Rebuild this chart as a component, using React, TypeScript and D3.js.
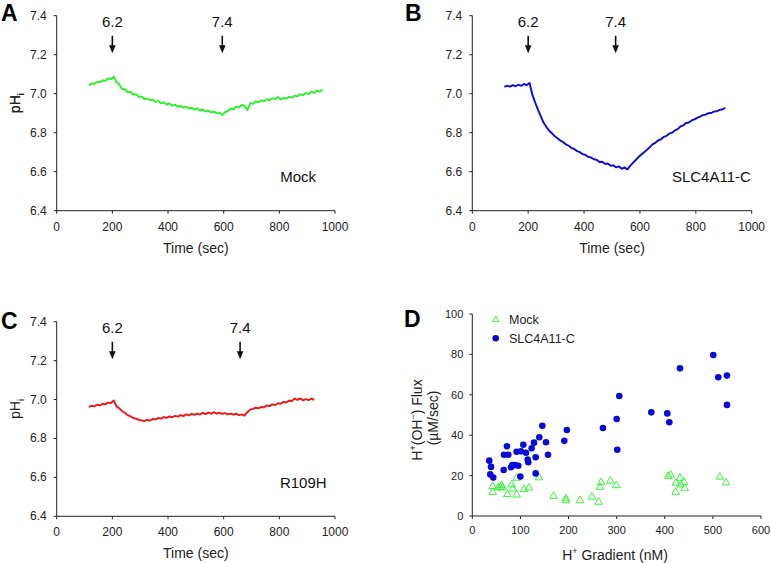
import React from "react";
import * as d3 from "d3";

// ---------- DATA ----------
const TIME_TICKS = [0, 200, 400, 600, 800, 1000];
const PH_TICKS = [6.4, 6.6, 6.8, 7.0, 7.2, 7.4];
const GRAD_TICKS = [0, 100, 200, 300, 400, 500, 600];
const FLUX_TICKS = [0, 20, 40, 60, 80, 100];

const timeA = d3.range(115, 956, 10);
const phMock = [
  7.042, 7.052, 7.05, 7.061, 7.058, 7.069, 7.066, 7.078, 7.074, 7.088,
  7.058, 7.048, 7.022, 7.024, 7.008, 7.009, 6.996, 6.997, 6.984, 6.986,
  6.973, 6.976, 6.966, 6.97, 6.958, 6.962, 6.951, 6.956, 6.945, 6.95,
  6.939, 6.944, 6.933, 6.938, 6.928, 6.934, 6.923, 6.928, 6.918, 6.925,
  6.913, 6.919, 6.908, 6.914, 6.903, 6.909, 6.899, 6.903, 6.891, 6.906,
  6.91, 6.924, 6.92, 6.934, 6.929, 6.943, 6.938, 6.915, 6.951, 6.948,
  6.961, 6.956, 6.966, 6.962, 6.972, 6.966, 6.977, 6.973, 6.983, 6.972,
  6.979, 6.975, 6.984, 6.98, 6.99, 6.986, 6.997, 6.992, 7.003, 6.998,
  7.01, 7.004, 7.016, 7.01, 7.02,
];

const timeB = d3.range(115, 906, 10);
const phSLC = [
  7.035, 7.041, 7.036, 7.044, 7.038, 7.046, 7.04, 7.05, 7.044, 7.055,
  6.995, 6.955, 6.918, 6.885, 6.852, 6.83, 6.81, 6.797, 6.782, 6.772,
  6.76, 6.752, 6.74, 6.733, 6.722, 6.716, 6.705, 6.7, 6.69, 6.686,
  6.676, 6.673, 6.664, 6.661, 6.65, 6.651, 6.64, 6.642, 6.63, 6.633,
  6.622, 6.627, 6.615, 6.622, 6.612, 6.63, 6.645, 6.66, 6.675, 6.688,
  6.7, 6.712, 6.725, 6.74, 6.748, 6.76, 6.766, 6.778, 6.784, 6.795,
  6.8, 6.812, 6.818, 6.832, 6.838, 6.85, 6.852, 6.863, 6.868, 6.876,
  6.882, 6.89, 6.893, 6.9, 6.901, 6.908, 6.91, 6.917, 6.919, 6.928,
];

const timeC = d3.range(115, 926, 10);
const phR109H = [
  6.962, 6.968, 6.965, 6.973, 6.97, 6.978, 6.975, 6.984, 6.982, 6.995,
  6.965, 6.955, 6.94, 6.932, 6.92, 6.914, 6.905, 6.902, 6.895, 6.893,
  6.89, 6.895, 6.892, 6.9, 6.898, 6.905, 6.902, 6.91, 6.906, 6.913,
  6.909, 6.916, 6.912, 6.92, 6.915, 6.924, 6.918, 6.926, 6.921, 6.928,
  6.923, 6.932, 6.925, 6.933, 6.927, 6.935, 6.928, 6.932, 6.926, 6.93,
  6.924, 6.928, 6.922, 6.927, 6.92, 6.924, 6.917, 6.935, 6.948, 6.952,
  6.958, 6.955, 6.962, 6.96, 6.97, 6.966, 6.975, 6.972, 6.981, 6.978,
  6.988, 6.985, 6.995, 6.992, 7.005, 6.998, 7.006, 6.996, 7.002, 6.997,
  7.004, 6.999,
];

const mockGradient = [
  42.4, 42.4, 54, 58.2, 61.1, 62.3, 72.7, 81.9, 84, 92.2, 92.2, 107.4, 117.8,
  138.6, 169, 194.5, 194.5, 223.8, 248.7, 262.6, 265.4, 267.5, 286.8, 299.3,
  407, 412, 423, 422.7, 431.6, 433, 440, 441.4, 514.7, 527.2,
];
const mockFlux = [
  14.9, 12.0, 14.2, 14.5, 15.3, 14.2, 10.9, 15.7, 13.7, 19.0, 10.7, 13.4, 14.2,
  19.2, 10.0, 8.8, 7.9, 7.9, 9.6, 7.1, 14.5, 16.8, 17.5, 15.3,
  19.9, 20.6, 16.5, 12.0, 19.0, 15.7, 17.0, 14.0, 19.5, 16.7,
];
const slcGradient = [
  35.3, 38.9, 37.4, 43.6, 65.2, 65.9, 72.1, 74.8, 80.4, 83.1, 88.7, 92.2, 95.6,
  99.8, 101.2, 106, 111.6, 115, 116.4, 123.4, 128.2, 131.7, 131.7, 139.2, 145.5,
  153.2, 157.3, 191.2, 196.5, 271.6, 300, 301.3, 305.5, 372, 405.2, 409.4,
  431.6, 500.8, 511.2, 529.3, 529.3,
];
const slcFlux = [
  27.4, 24.3, 20.6, 19.0, 22.8, 30.3, 34.5, 30.3, 24.1, 25.2, 25.2, 31.8, 24.9,
  19.5, 32.0, 35.3, 31.3, 28.0, 26.6, 33.5, 36.3, 29.1, 21.1, 39.0, 44.7,
  36.5, 30.3, 37.2, 42.6, 43.6, 48.0, 32.8, 59.4, 51.3, 50.8, 46.4,
  73.1, 79.7, 68.7, 69.5, 55.0,
];

// ---------- STYLE ----------
const FONT = "Arial, 'Liberation Sans', Helvetica, sans-serif";
const GREEN = "#2df02d";
const BLUE = "#0a0ad8";
const RED = "#ee1515";
const AXIS = "#222";

type TraceProps = {
  letter: string;
  letterX: number;
  letterY: number;
  left: number;
  top: number;
  right: number;
  bottom: number;
  times: number[];
  values: number[];
  color: string;
  arrowAcid: number;
  arrowBase: number;
  label: string;
  labelX: number;
};

function Arrow({ x, y1, y2, text, yText }: { x: number; y1: number; y2: number; text: string; yText: number }) {
  const head = 8;
  const hw = 3.3;
  return (
    <g>
      <text x={x} y={yText} textAnchor="middle" fontSize={15} fontFamily={FONT} fill="#111">
        {text}
      </text>
      <line x1={x} x2={x} y1={y1} y2={y2 - head + 1} stroke="#111" strokeWidth={1.6} />
      <path d={`M${x - hw},${y2 - head} L${x + hw},${y2 - head} L${x},${y2} Z`} fill="#111" />
    </g>
  );
}

function TracePanel(p: TraceProps) {
  const x = d3.scaleLinear().domain([0, 1000]).range([p.left, p.right]);
  const y = d3.scaleLinear().domain([6.4, 7.4]).range([p.bottom, p.top]);
  const pts: [number, number][] = p.times.map((t, i) => [t, p.values[i]]);
  const line = d3
    .line<[number, number]>()
    .x((d) => x(d[0]))
    .y((d) => y(d[1]));
  const midY = (p.top + p.bottom) / 2;
  return (
    <g>
      <text x={p.letterX} y={p.letterY} fontSize={23} fontWeight="bold" fontFamily={FONT} fill="#000">
        {p.letter}
      </text>
      <line x1={p.left} x2={p.left} y1={p.top} y2={p.bottom} stroke={AXIS} strokeWidth={1} />
      <line x1={p.left} x2={p.right} y1={p.bottom} y2={p.bottom} stroke={AXIS} strokeWidth={1} />
      {PH_TICKS.map((t) => (
        <g key={"y" + t}>
          <line x1={p.left - 3} x2={p.left} y1={y(t)} y2={y(t)} stroke={AXIS} />
          <text x={p.left - 10} y={y(t) + 4} textAnchor="end" fontSize={12} fontFamily={FONT} fill="#222">
            {t.toFixed(1)}
          </text>
        </g>
      ))}
      {TIME_TICKS.map((t) => (
        <g key={"x" + t}>
          <line x1={x(t)} x2={x(t)} y1={p.bottom} y2={p.bottom + 3} stroke={AXIS} />
          <text x={x(t)} y={p.bottom + 20} textAnchor="middle" fontSize={12} fontFamily={FONT} fill="#222">
            {t}
          </text>
        </g>
      ))}
      <text x={(p.left + p.right) / 2} y={p.bottom + 42} textAnchor="middle" fontSize={14} fontFamily={FONT} fill="#222">
        Time (sec)
      </text>
      <text transform={`translate(20,${midY - 10}) rotate(-90)`} textAnchor="middle" fontSize={14} fontFamily={FONT} fill="#222">
        pH<tspan fontSize={9} dy={4}>i</tspan>
      </text>
      <path d={line(pts) || ""} fill="none" stroke={p.color} strokeWidth={1.9} strokeLinejoin="round" />
      <Arrow x={x(p.arrowAcid)} y1={p.top + 20} y2={p.top + 37.5} yText={p.top + 11.5} text="6.2" />
      <Arrow x={x(p.arrowBase)} y1={p.top + 20} y2={p.top + 37.5} yText={p.top + 11.5} text="7.4" />
      <text x={x(p.labelX)} y={y(6.547)} textAnchor="end" fontSize={15} fontFamily={FONT} fill="#111">
        {p.label}
      </text>
    </g>
  );
}

function ScatterPanel() {
  const left = 472.3, right = 761, top = 314, bottom = 516;
  const x = d3.scaleLinear().domain([0, 600]).range([left, right]);
  const y = d3.scaleLinear().domain([0, 100]).range([bottom, top]);
  const tri = (cx: number, cy: number, s: number) =>
    `M${cx},${cy - s * 0.62} L${cx + s * 0.58},${cy + s * 0.4} L${cx - s * 0.58},${cy + s * 0.4} Z`;
  return (
    <g>
      <text x={404} y={327} fontSize={23} fontWeight="bold" fontFamily={FONT} fill="#000">D</text>
      <line x1={left} x2={left} y1={top} y2={bottom} stroke={AXIS} />
      <line x1={left} x2={right} y1={bottom} y2={bottom} stroke={AXIS} />
      {FLUX_TICKS.map((t) => (
        <g key={"fy" + t}>
          <line x1={left - 3} x2={left} y1={y(t)} y2={y(t)} stroke={AXIS} />
          <text x={left - 9} y={y(t) + 4} textAnchor="end" fontSize={11} fontFamily={FONT} fill="#222">{t}</text>
        </g>
      ))}
      {GRAD_TICKS.map((t) => (
        <g key={"fx" + t}>
          <line x1={x(t)} x2={x(t)} y1={bottom} y2={bottom + 3} stroke={AXIS} />
          <text x={x(t)} y={bottom + 18} textAnchor="middle" fontSize={11} fontFamily={FONT} fill="#222">{t}</text>
        </g>
      ))}
      <text x={615} y={560} textAnchor="middle" fontSize={14} fontFamily={FONT} fill="#222">
        H<tspan fontSize={9} dy={-6}>+</tspan><tspan dy={6}> Gradient (nM)</tspan>
      </text>
      <text transform={`translate(421.5,420) rotate(-90)`} textAnchor="middle" fontSize={14} fontFamily={FONT} fill="#222">
        H<tspan fontSize={9} dy={-6}>+</tspan><tspan dy={6}>(OH</tspan><tspan fontSize={9} dy={-6}>−</tspan><tspan dy={6}>) Flux</tspan>
      </text>
      <text transform={`translate(438,418) rotate(-90)`} textAnchor="middle" fontSize={14} fontFamily={FONT} fill="#222">
        (µM/sec)
      </text>
      {mockGradient.map((g, i) => (
        <path key={"m" + i} d={tri(x(g), y(mockFlux[i]), 6.5)} fill="none" stroke={GREEN} strokeWidth={0.9} />
      ))}
      {slcGradient.map((g, i) => (
        <circle key={"s" + i} cx={x(g)} cy={y(slcFlux[i])} r={3.3} fill={BLUE} />
      ))}
      <path d={tri(495.7, 319.5, 5.5)} fill="none" stroke={GREEN} strokeWidth={0.9} />
      <text x={509} y={323.5} fontSize={12.5} fontFamily={FONT} fill="#222">Mock</text>
      <circle cx={495.7} cy={338.3} r={3.3} fill={BLUE} />
      <text x={509} y={342.5} fontSize={12.5} fontFamily={FONT} fill="#222">SLC4A11-C</text>
    </g>
  );
}

export default function App() {
  return (
    <svg width={771} height={563} style={{ position: "absolute", left: 0, top: 0, background: "#fff" }}>
      <rect width={771} height={563} fill="#fff" />
      <TracePanel letter="A" letterX={1} letterY={20.5} left={56.7} right={335} top={15.7} bottom={210.7} times={timeA} values={phMock}
        color={GREEN} arrowAcid={200} arrowBase={595} label="Mock" labelX={932} />
      <TracePanel letter="B" letterX={405} letterY={20.5} left={472.3} right={751.7} top={15.7} bottom={210.7} times={timeB} values={phSLC}
        color={BLUE} arrowAcid={200} arrowBase={513} label="SLC4A11-C" labelX={997} />
      <TracePanel letter="C" letterX={1} letterY={328.5} left={56.7} right={335} top={321.7} bottom={516.3} times={timeC} values={phR109H}
        color={RED} arrowAcid={200} arrowBase={659} label="R109H" labelX={970} />
      <ScatterPanel />
    </svg>
  );
}
